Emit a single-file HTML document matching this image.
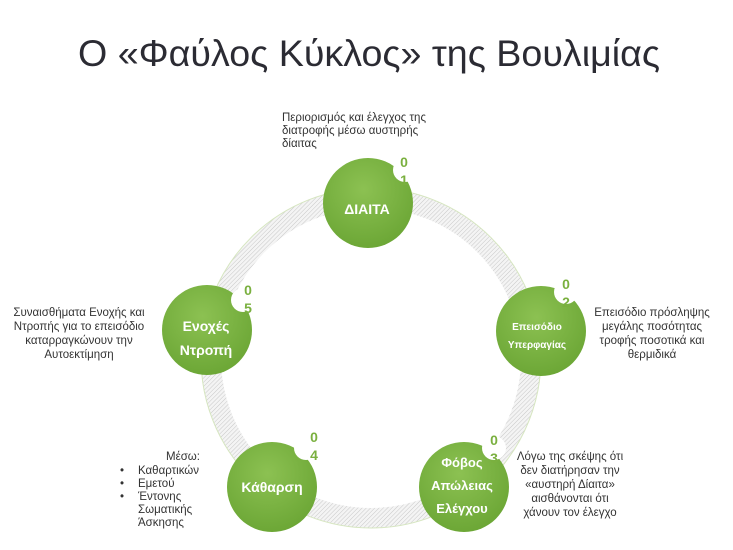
<!DOCTYPE html>
<html><head><meta charset="utf-8"><style>
body{margin:0;background:#fff;}
svg{display:block;font-family:"Liberation Sans","DejaVu Sans",sans-serif;}
</style></head><body>
<svg width="733" height="550" viewBox="0 0 733 550">
<defs>
<pattern id="h" width="3" height="3" patternUnits="userSpaceOnUse" patternTransform="rotate(45)">
<rect width="3" height="3" fill="#f4f4f4"/><line x1="0" y1="0" x2="0" y2="3" stroke="#c8c8c8" stroke-width="1"/>
</pattern>
<radialGradient id="g" cx="45%" cy="35%" r="70%">
<stop offset="0" stop-color="#8cc152"/><stop offset="1" stop-color="#6aa534"/>
</radialGradient>
</defs>
<text x="369" y="66" font-size="37" fill="#2b2b33" text-anchor="middle" textLength="582" lengthAdjust="spacingAndGlyphs">Ο «Φαύλος Κύκλος» της Βουλιμίας</text>
<circle cx="371" cy="358" r="160" fill="none" stroke="url(#h)" stroke-width="20"/>
<circle cx="371" cy="358" r="170" fill="none" stroke="#d6e6c0" stroke-width="1"/>
<g fill="url(#g)">
<circle cx="368" cy="203" r="45"/>
<circle cx="541" cy="331" r="45"/>
<circle cx="464" cy="487" r="45"/>
<circle cx="272" cy="487" r="45"/>
<circle cx="207" cy="330" r="45"/>
</g>
<g fill="#fff">
<circle cx="405" cy="170" r="12"/>
<circle cx="566" cy="292" r="12"/>
<circle cx="494" cy="448" r="12"/>
<circle cx="306" cy="448" r="12"/>
<circle cx="243" cy="300" r="12"/>
</g>
<g fill="#7ab03f" font-size="14" font-weight="bold" text-anchor="middle">
<text x="404" y="167">0</text><text x="404" y="185">1</text>
<text x="566" y="289">0</text><text x="566" y="307">2</text>
<text x="494" y="445">0</text><text x="494" y="463">3</text>
<text x="314" y="442">0</text><text x="314" y="460">4</text>
<text x="248" y="295">0</text><text x="248" y="313">5</text>
</g>
<g fill="#fff" font-weight="bold" text-anchor="middle">
<text x="367" y="214" font-size="14">ΔΙΑΙΤΑ</text>
<text x="537" y="330" font-size="10">Επεισόδιο</text>
<text x="537" y="348" font-size="10">Υπερφαγίας</text>
<text x="462" y="467" font-size="13">Φόβος</text>
<text x="462" y="490" font-size="13">Απώλειας</text>
<text x="462" y="513" font-size="13">Ελέγχου</text>
<text x="272" y="492" font-size="14">Κάθαρση</text>
<text x="206" y="331" font-size="14">Ενοχές</text>
<text x="206" y="355" font-size="14">Ντροπή</text>
</g>
<g fill="#333" font-size="11.5">
<text x="282" y="121">Περιορισμός και έλεγχος της</text>
<text x="282" y="134">διατροφής μέσω αυστηρής</text>
<text x="282" y="147">δίαιτας</text>
<g text-anchor="middle">
<text x="652" y="316">Επεισόδιο πρόσληψης</text>
<text x="652" y="330">μεγάλης ποσότητας</text>
<text x="652" y="344">τροφής ποσοτικά και</text>
<text x="652" y="358">θερμιδικά</text>
<text x="570" y="460">Λόγω της σκέψης ότι</text>
<text x="570" y="474">δεν διατήρησαν την</text>
<text x="570" y="488">«αυστηρή Δίαιτα»</text>
<text x="570" y="502">αισθάνονται ότι</text>
<text x="570" y="516">χάνουν τον έλεγχο</text>
<text x="79" y="316">Συναισθήματα Ενοχής και</text>
<text x="79" y="330">Ντροπής για το επεισόδιο</text>
<text x="79" y="344">καταρραγκώνουν την</text>
<text x="79" y="358">Αυτοεκτίμηση</text>
<text x="183" y="460">Μέσω:</text>
</g>
<text x="120" y="474">•</text><text x="138" y="474">Καθαρτικών</text>
<text x="120" y="487">•</text><text x="138" y="487">Εμετού</text>
<text x="120" y="500">•</text><text x="138" y="500">Έντονης</text>
<text x="138" y="513">Σωματικής</text>
<text x="138" y="526">Άσκησης</text>
</g>
</svg>
</body></html>
